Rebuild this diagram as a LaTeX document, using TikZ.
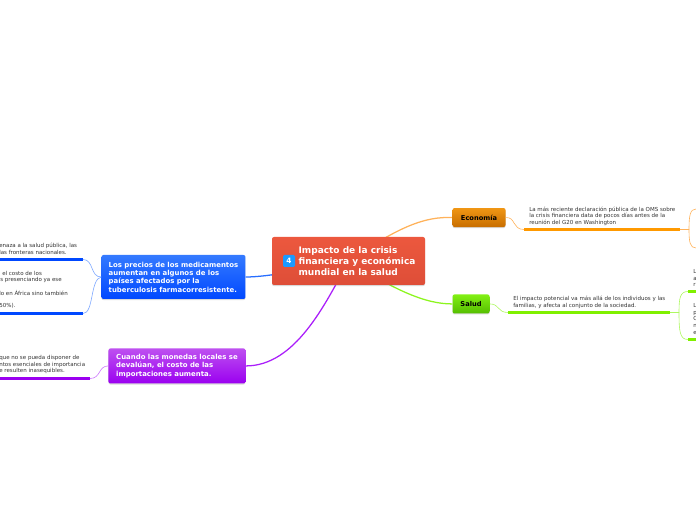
\documentclass[tikz,border=0pt]{standalone}
\usepackage{fontspec}
\setmainfont{DejaVu Sans}
\usetikzlibrary{positioning,shadows,backgrounds}
\definecolor{mapred}{RGB}{236,88,62}
\definecolor{mapredlow}{RGB}{222,78,56}
\definecolor{mapbluetop}{RGB}{52,122,255}
\definecolor{mapbluelow}{RGB}{0,72,255}
\definecolor{mapvioletop}{RGB}{190,80,240}
\definecolor{mapviolelow}{RGB}{155,0,240}
\definecolor{maporangetop}{RGB}{240,150,20}
\definecolor{maporangelow}{RGB}{200,110,0}
\definecolor{mapgreentop}{RGB}{130,240,20}
\definecolor{mapgreenlow}{RGB}{85,190,0}
\definecolor{linkorange}{RGB}{255,178,90}
\definecolor{linkblue}{RGB}{40,110,255}
\definecolor{linkviolet}{RGB}{170,30,250}
\definecolor{linkgreen}{RGB}{140,245,30}
\definecolor{barorange}{RGB}{255,153,0}
\definecolor{barblue}{RGB}{0,72,255}
\definecolor{barviolet}{RGB}{155,0,240}
\definecolor{bargreen}{RGB}{128,240,0}

\begin{document}
\begin{tikzpicture}[x=0.75pt,y=-0.75pt,
  topic/.style={rounded corners=1.5pt, align=left, inner sep=0pt, text=white, font=\fontsize{5.2}{6.25}\selectfont\bfseries, drop shadow={shadow xshift=0pt, shadow yshift=-0.8pt, opacity=0.3}},
  rootbox/.style={topic, minimum width=114.75pt, minimum height=36pt, top color=mapred, bottom color=mapredlow},
  mainbox/.style={topic, text=black, minimum height=14.25pt, font=\fontsize{5}{6}\selectfont\bfseries},
  leaf/.style={align=left, anchor=west, inner sep=0pt, text=black!80, font=\fontsize{4.13}{4.85}\selectfont},
  bar/.style={line width=2.25pt},
  link/.style={line width=0.95pt},
  thinlink/.style={line width=0.45pt}]
\useasboundingbox (0,0) rectangle (696,520);
\node[rootbox] (central) at (348.5,261) {};
\node[rounded corners=1pt, fill=linkblue!70!cyan, text=white, minimum size=9pt, inner sep=0pt, font=\fontsize{5.5}{6}\selectfont\bfseries] (badge) at (289,261) {4};
\node[inner sep=0pt, anchor=west, align=left, text=white, font=\fontsize{6.75}{8.3}\selectfont\bfseries, right=2.3pt of badge] (centraltext) {Impacto de la crisis\\financiera y económica\\mundial en la salud};
\node[mainbox, top color=maporangetop, bottom color=maporangelow, minimum width=39.75pt, right=20.25pt of central, yshift=32.6pt] (economia) {Economía};
\node[mainbox, top color=mapgreentop, bottom color=mapgreenlow, minimum width=27.75pt, right=20.25pt of central, yshift=-32.2pt] (salud) {Salud};
\node[topic, top color=mapbluetop, bottom color=mapbluelow, minimum width=108pt, minimum height=33pt, left=19.5pt of central, yshift=-12pt] (precios) {Los precios de los medicamentos\\aumentan en algunos de los\\países afectados por la\\tuberculosis farmacorresistente.};
\node[topic, top color=mapvioletop, bottom color=mapviolelow, minimum width=102.75pt, minimum height=26.25pt, left=19.5pt of central, yshift=-78.7pt] (monedas) {Cuando las monedas locales se\\devalúan, el costo de las\\importaciones aumenta.};
% leaves
\node[leaf] (declaracion) at (529,216) {La más reciente declaración pública de la OMS sobre\\la crisis financiera data de pocos días antes de la\\reunión del G20 en Washington};
\node[leaf] (impacto) at (513,302.5) {El impacto potencial va más allá de los individuos y las\\familias, y afecta al conjunto de la sociedad.};
\node[leaf] (amenaza) at (-1,249) {enaza a la salud pública, las\\las fronteras nacionales.};
\node[leaf] (costo) at (0,277) {\hspace*{1.5pt}el costo de los\\s presenciando ya ese};
\node[leaf] (africa) at (-1,293) {lo en África sino también};
\node[leaf] (pct) at (-1,306) {50\%).};
\node[leaf] (disponer) at (-1,364.5) {que no se pueda disponer de\\ntos esenciales de importancia\\e resulten inasequibles.};
\node[leaf, font=\fontsize{4.13}{5}\selectfont] (cortoa) at (693,278) {L\\a\\r};
\node[leaf, font=\fontsize{4.13}{5}\selectfont] (cortob) at (693,319) {L\\p\\C\\n\\e};
% bars
\coordinate (bareco) at (524,229.5);
\coordinate (baresal) at (508,312.5);
\coordinate (bartop) at (83,259.5);
\coordinate (barlow) at (83,313.5);
\coordinate (barvio) at (90,378.5);
\coordinate (barsaltop) at (688,291.5);
\coordinate (barsallow) at (688,339.5);
\coordinate (ecotop) at (696,209);
\coordinate (ecolow) at (696,248);
\draw[bar, barorange] (bareco) -- ++(156,0) coordinate (bareco2);
\draw[bar, bargreen] (baresal) -- ++(162,0) coordinate (baresal2);
\draw[bar, barblue] (bartop) -- (0,259.5);
\draw[bar, barblue] (barlow) -- (0,313.5);
\draw[bar, barviolet] (barvio) -- (0,378.5);
\draw[bar, bargreen] (barsaltop) -- (696,291.5);
\draw[bar, bargreen] (barsallow) -- (696,339.5);
% connectors
\begin{scope}[on background layer]
\draw[link, linkorange] (central.center) .. controls (400,226) and (425,216.5) .. (economia.west);
\draw[link, linkgreen] (central.center) .. controls (395,290) and (425,304) .. (salud.west);
\draw[link, linkblue] (central.center) .. controls (290,273) and (262,277) .. (precios.east);
\draw[link, linkviolet] (central.center) .. controls (325,305) and (295,366) .. (monedas.east);
\end{scope}
\draw[thinlink, linkorange] (economia.east) .. controls (516,217) and (512,229.5) .. (bareco);
\draw[thinlink, linkgreen!70] (salud.east) .. controls (500,304) and (497,312.5) .. (baresal);
\draw[thinlink, linkblue!60] (precios.west) .. controls (90,277) and (94,259.5) .. (bartop);
\draw[thinlink, linkblue!60] (precios.west) .. controls (90,279) and (94,313.5) .. (barlow);
\draw[thinlink, linkviolet!60] (monedas.west) .. controls (98,366) and (101,378.5) .. (barvio);
\draw[thinlink, linkorange] (bareco2) -- ++(9,0) coordinate (bendeco) .. controls (689,216) and (690,209) .. (ecotop);
\draw[thinlink, linkorange] (bendeco) .. controls (689,242) and (690,248) .. (ecolow);
\draw[thinlink, linkgreen!70] (baresal2) -- ++(9,0) coordinate (bendsal) .. controls (679,298) and (680,291.5) .. (barsaltop);
\draw[thinlink, linkgreen!70] (bendsal) .. controls (679,332) and (680,339.5) .. (barsallow);
\end{tikzpicture}
\end{document}
